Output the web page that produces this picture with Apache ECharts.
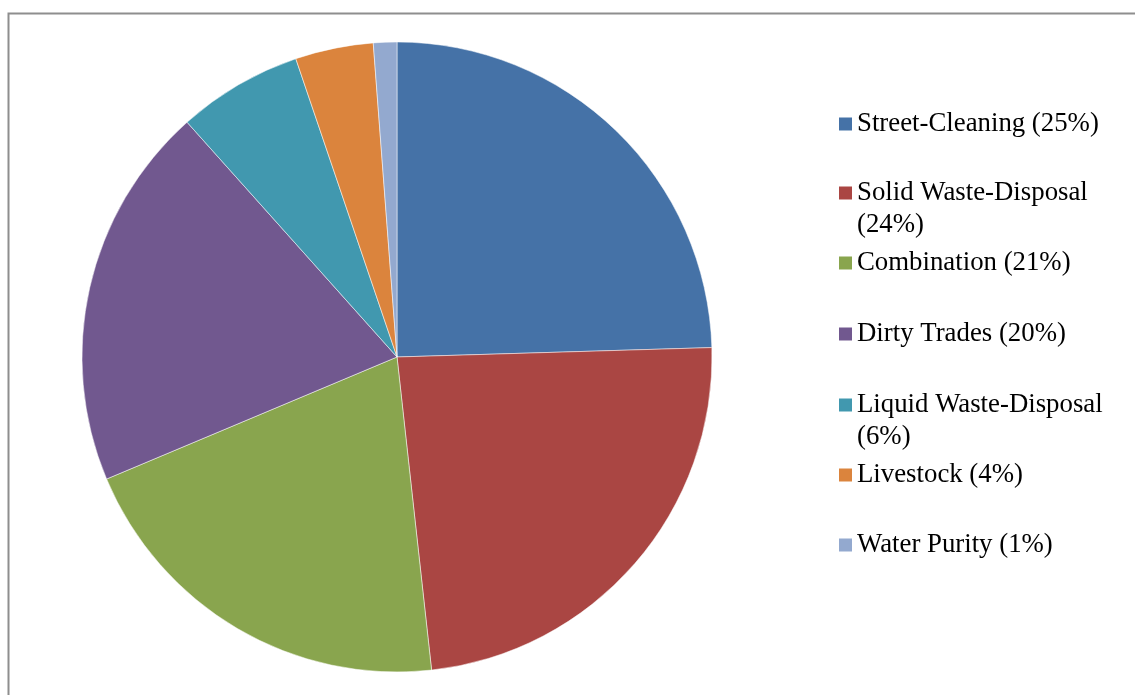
<!DOCTYPE html>
<html>
<head>
<meta charset="utf-8">
<script src="https://cdn.jsdelivr.net/npm/echarts@6/dist/echarts.min.js"></script>
<style>
html,body{margin:0;padding:0;background:#fff;}
#chart{width:1135px;height:695px;}
</style>
</head>
<body>
<div id="chart"></div>
<script>
var categories = ['Street-Cleaning', 'Solid Waste-Disposal', 'Combination', 'Dirty Trades', 'Liquid Waste-Disposal', 'Livestock', 'Water Purity'];
var values = [24.5, 23.7, 20.4, 19.7, 6.4, 4.0, 1.2];
var legendFirstLines = ['Street-Cleaning (25%)', 'Solid Waste-Disposal', 'Combination (21%)', 'Dirty Trades (20%)', 'Liquid Waste-Disposal', 'Livestock (4%)', 'Water Purity (1%)'];
var legendSecondLines = ['', '(24%)', '', '', '(6%)', '', ''];
var colors = ['#4572A7', '#AA4643', '#89A54E', '#71588F', '#4198AF', '#DB843D', '#93A9CF'];

var iconCenters = [124, 193, 263, 334, 405, 475, 545];
var fontFamily = "'Liberation Serif', 'Times New Roman', serif";
var fontSize = 26.8;
var lh = 31;

var legends = categories.map(function (name, i) {
  return {
    data: [name],
    orient: 'vertical',
    left: 839,
    top: iconCenters[i] - lh / 2,
    padding: 0,
    itemWidth: 13,
    itemHeight: 13,
    itemGap: 0,
    icon: 'rect',
    selectedMode: false,
    itemStyle: { borderWidth: 0 },
    formatter: function () { return legendFirstLines[i]; },
    textStyle: { fontFamily: fontFamily, fontSize: fontSize, lineHeight: lh, color: '#000' }
  };
});

var graphics = [{
  type: 'rect',
  shape: { x: 8.5, y: 13.5, width: 1140, height: 700 },
  style: { fill: 'none', stroke: '#8e8e8e', lineWidth: 2 },
  silent: true
}];
legendSecondLines.forEach(function (t, i) {
  if (!t) return;
  graphics.push({
    type: 'text',
    x: 857,
    y: iconCenters[i] + 32,
    silent: true,
    style: { text: t, fontFamily: fontFamily, fontSize: fontSize, fill: '#000', verticalAlign: 'middle', align: 'left' }
  });
});

var chart = echarts.init(document.getElementById('chart'));
chart.setOption({
  animation: false,
  color: colors,
  legend: legends,
  graphic: graphics,
  series: [{
    type: 'pie',
    center: [397, 357],
    radius: [0, 315],
    startAngle: 90,
    clockwise: true,
    label: { show: false },
    labelLine: { show: false },
    emphasis: { disabled: true },
    itemStyle: { borderColor: 'rgba(255,255,255,0.5)', borderWidth: 1 },
    data: categories.map(function (n, i) { return { name: n, value: values[i] }; })
  }]
});
</script>
</body>
</html>
